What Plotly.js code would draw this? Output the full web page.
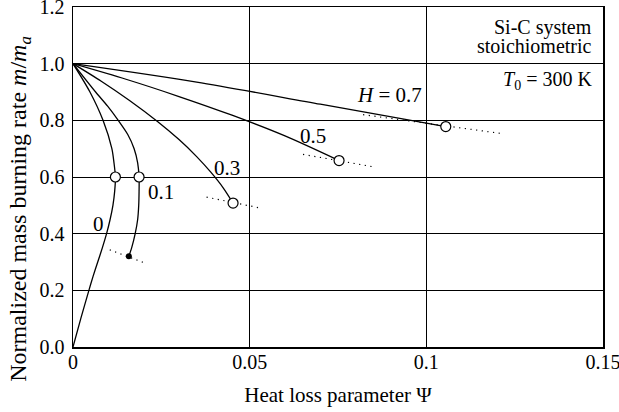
<!DOCTYPE html>
<html>
<head>
<meta charset="utf-8">
<script src="https://cdn.plot.ly/plotly-3.0.1.min.js"></script>
<style>html,body{margin:0;padding:0;background:#fff;}#chart{width:619px;height:412px;}</style>
</head>
<body>
<div id="chart"></div>
<script>
// Curve H = 0
const h0X = [0, 0.0048, 0.0085, 0.0110, 0.0116, 0.0120, 0.0118, 0.0113, 0.0105, 0.0095, 0.0083, 0.0070, 0.0057, 0.0045, 0.0022, 0];
const h0Y = [1.0, 0.90, 0.80, 0.70, 0.65, 0.60, 0.55, 0.50, 0.45, 0.40, 0.35, 0.30, 0.25, 0.20, 0.10, 0.0];
// Curve H = 0.1
const h1X = [0, 0.0064, 0.0098, 0.0128, 0.0155, 0.0173, 0.0183, 0.0187, 0.0187, 0.0186, 0.0183, 0.0176, 0.0166, 0.0158];
const h1Y = [1.0, 0.90, 0.85, 0.80, 0.75, 0.70, 0.65, 0.60, 0.55, 0.50, 0.45, 0.40, 0.35, 0.32];
// Curve H = 0.3
const h3X = [0, 0.008, 0.016, 0.024, 0.030, 0.035, 0.039, 0.0425, 0.0453];
const h3Y = [1.0, 0.938, 0.870, 0.795, 0.732, 0.672, 0.617, 0.562, 0.508];
// Curve H = 0.5
const h5X = [0, 0.015, 0.030, 0.045, 0.060, 0.0753];
const h5Y = [1.0, 0.945, 0.884, 0.818, 0.745, 0.658];
// Curve H = 0.7
const h7X = [0, 0.035, 0.070, 0.1055];
const h7Y = [1.0, 0.935, 0.857, 0.778];
// End points (open circles)
const circX = [0.0120, 0.0187, 0.0453, 0.0753, 0.1055];
const circY = [0.60, 0.60, 0.508, 0.658, 0.778];
// End point (filled dot)
const dotX = [0.0158];
const dotY = [0.32];
// Dotted tangent lines
const tan1X = [0.0104, 0.0198], tan1Y = [0.343, 0.299];
const tan3X = [0.0378, 0.0528], tan3Y = [0.529, 0.491];
const tan5X = [0.0651, 0.0845], tan5Y = [0.680, 0.637];
const tan7X = [0.0821, 0.1219], tan7Y = [0.820, 0.7525];
// Curve labels
const labelText = ['0', '0.1', '0.3', '0.5', '<i>H</i> = 0.7'];
const labelX = [0.0071, 0.025, 0.0437, 0.0679, 0.0993];
const labelY = [0.435, 0.546, 0.631, 0.743, 0.888];
// Axis ticks
const xTicks = [0, 0.05, 0.1, 0.15];
const xTickText = ['0', '0.05', '0.1', '0.15'];
const yTicks = [0, 0.2, 0.4, 0.6, 0.8, 1.0, 1.2];
const yTickText = ['0.0', '0.2', '0.4', '0.6', '0.8', '1.0', '1.2'];

const FONT = "'Liberation Serif', 'DejaVu Serif', serif";
const curveLine = {color: '#000', width: 1.3, shape: 'spline', smoothing: 0.8};
const dotLine = {color: '#000', width: 1.2, dash: '1.2px,4.5px'};

function curve(x, y) {
  return {x: x, y: y, type: 'scatter', mode: 'lines', line: curveLine, hoverinfo: 'skip', showlegend: false};
}
function tangent(x, y) {
  return {x: x, y: y, type: 'scatter', mode: 'lines', line: dotLine, hoverinfo: 'skip', showlegend: false};
}

const data = [
  tangent(tan1X, tan1Y), tangent(tan3X, tan3Y), tangent(tan5X, tan5Y), tangent(tan7X, tan7Y),
  curve(h0X, h0Y), curve(h1X, h1Y), curve(h3X, h3Y), curve(h5X, h5Y), curve(h7X, h7Y),
  {x: circX, y: circY, type: 'scatter', mode: 'markers', showlegend: false, hoverinfo: 'skip',
   marker: {symbol: 'circle', size: 10, color: '#fff', line: {color: '#000', width: 1.2}}},
  {x: dotX, y: dotY, type: 'scatter', mode: 'markers', showlegend: false, hoverinfo: 'skip',
   marker: {symbol: 'circle', size: 6, color: '#000'}}
];

const annotations = labelText.map((t, i) => ({
  x: labelX[i], y: labelY[i], xref: 'x', yref: 'y', text: t, showarrow: false,
  xanchor: i === 4 ? 'right' : 'center', yanchor: 'middle',
  font: {family: FONT, size: 21, color: '#000'}
}));
annotations.push({
  x: 0.1474, y: 1.128, xref: 'x', yref: 'y', text: 'Si-C system', showarrow: false,
  xanchor: 'right', yanchor: 'middle', align: 'right',
  font: {family: FONT, size: 20, color: '#000'}
});
annotations.push({
  x: 0.1474, y: 1.0625, xref: 'x', yref: 'y', text: 'stoichiometric', showarrow: false,
  xanchor: 'right', yanchor: 'middle', align: 'right',
  font: {family: FONT, size: 20, color: '#000'}
});
annotations.push({
  x: 0.1474, y: 0.94, xref: 'x', yref: 'y', text: '<i>T</i><sub>0</sub> = 300 K', showarrow: false,
  xanchor: 'right', yanchor: 'middle', align: 'right',
  font: {family: FONT, size: 20, color: '#000'}
});
annotations.push({
  x: -0.099, y: 0.405, xref: 'paper', yref: 'paper', textangle: -90, showarrow: false,
  text: 'Normalized mass burning rate <i>m</i>/<i>m</i><sub><i>a</i></sub>',
  xanchor: 'center', yanchor: 'middle',
  font: {family: FONT, size: 24, color: '#000'}
});

const layout = {
  width: 619, height: 412,
  margin: {l: 73, r: 16, t: 7, b: 65, pad: 0},
  paper_bgcolor: '#fff', plot_bgcolor: '#fff',
  font: {family: FONT, size: 20, color: '#000'},
  xaxis: {
    range: [0, 0.15], tickvals: xTicks, ticktext: xTickText,
    showgrid: true, gridcolor: '#000', gridwidth: 1,
    showline: true, linecolor: '#000', linewidth: 1.5, mirror: true,
    zeroline: false, ticks: '', ticklabelstandoff: -4, ticklabeloverflow: 'allow',
    tickfont: {family: FONT, size: 20, color: '#000'},
    title: {text: 'Heat loss parameter Ψ', font: {family: FONT, size: 21, color: '#000'}, standoff: 16}
  },
  yaxis: {
    range: [0, 1.2], tickvals: yTicks, ticktext: yTickText,
    showgrid: true, gridcolor: '#000', gridwidth: 1,
    showline: true, linecolor: '#000', linewidth: 1.5, mirror: true,
    zeroline: false, ticks: '', ticklabelstandoff: 3, ticklabeloverflow: 'allow',
    tickfont: {family: FONT, size: 20, color: '#000'}
  },
  annotations: annotations,
  showlegend: false
};

Plotly.newPlot('chart', data, layout, {displayModeBar: false, staticPlot: true});
</script>
</body>
</html>
